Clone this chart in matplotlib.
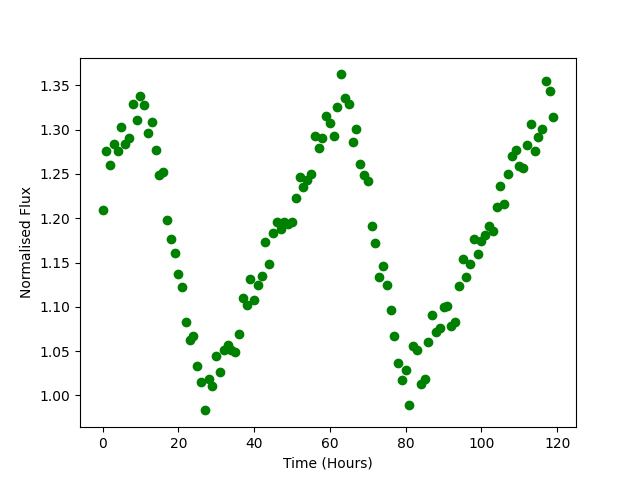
import numpy as np
import matplotlib
matplotlib.use("Agg")
import matplotlib.pyplot as plt

time_hours = list(range(120))
flux = [
    1.2097, 1.2755, 1.2605, 1.2834, 1.2763, 1.3034, 1.2837, 1.2910, 1.3293, 1.3113,
    1.3376, 1.3282, 1.2966, 1.3082, 1.2766, 1.2492, 1.2526, 1.1984, 1.1769, 1.1611,
    1.1374, 1.1227, 1.0832, 1.0629, 1.0674, 1.0327, 1.0155, 0.9831, 1.0184, 1.0110,
    1.0448, 1.0268, 1.0516, 1.0565, 1.0508, 1.0489, 1.0697, 1.1099, 1.1024, 1.1318,
    1.1073, 1.1250, 1.1344, 1.1727, 1.1479, 1.1829, 1.1953, 1.1874, 1.1953, 1.1931,
    1.1953, 1.2224, 1.2461, 1.2356, 1.2435, 1.2503, 1.2924, 1.2797, 1.2910, 1.3150,
    1.3079, 1.2932, 1.3260, 1.3624, 1.3357, 1.3293, 1.2857, 1.3011, 1.2608, 1.2492,
    1.2424, 1.1908, 1.1716, 1.1332, 1.1456, 1.1250, 1.0960, 1.0674, 1.0369, 1.0177,
    1.0290, 0.9895, 1.0553, 1.0516, 1.0132, 1.0189, 1.0606, 1.0911, 1.0715, 1.0764,
    1.0994, 1.1013, 1.0787, 1.0828, 1.1239, 1.1543, 1.1340, 1.1487, 1.1769, 1.1600,
    1.1739, 1.1806, 1.1908, 1.1860, 1.2126, 1.2368, 1.2164, 1.2503, 1.2698, 1.2766,
    1.2586, 1.2571, 1.2831, 1.3060, 1.2755, 1.2921, 1.3011, 1.3545, 1.3440, 1.3147,
]

fig, ax = plt.subplots(figsize=(6.4, 4.8), dpi=100)
ax.plot(time_hours, flux, 'go')
ax.set_xlabel('Time (Hours)')
ax.set_ylabel('Normalised Flux')
fig.savefig('out.png', dpi=100)
